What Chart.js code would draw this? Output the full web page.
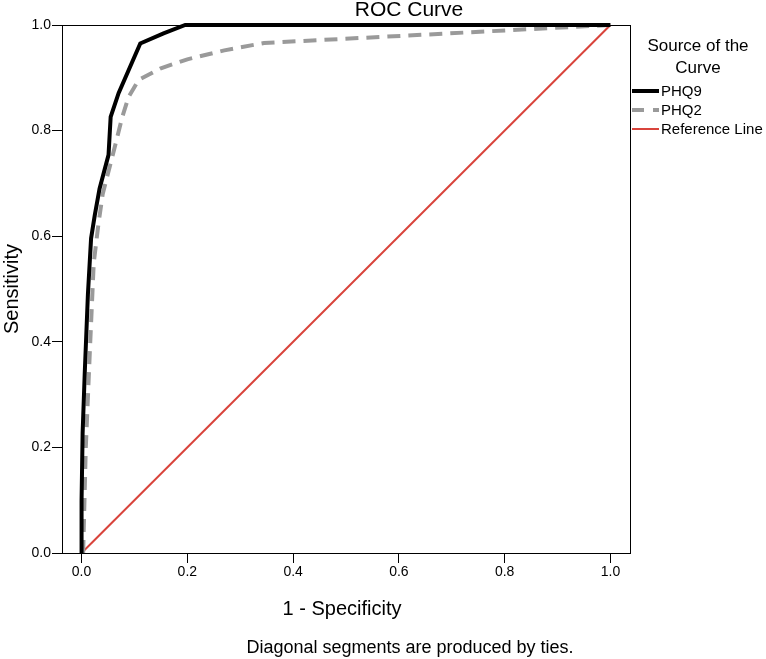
<!DOCTYPE html>
<html>
<head>
<meta charset="utf-8">
<script src="https://cdn.jsdelivr.net/npm/chart.js@4.4.1/dist/chart.umd.min.js"></script>
<style>
  html, body { margin: 0; padding: 0; background: #fff; }
  canvas { display: block; }
</style>
</head>
<body>
<canvas id="roc" width="766" height="659" style="width:766px;height:659px"></canvas>
<script>
// values
const phq9X = [0, 0, 0.002, 0.006, 0.012, 0.018, 0.025, 0.034, 0.051, 0.055, 0.070, 0.111, 0.155, 0.196, 1];
const phq9Y = [0, 0.10, 0.227, 0.341, 0.49, 0.596, 0.64, 0.69, 0.754, 0.826, 0.871, 0.965, 0.984, 1, 1];
const phq2X = [0.003, 0.008, 0.016, 0.023, 0.032, 0.040, 0.058, 0.077, 0.089, 0.108, 0.15, 0.2, 0.27, 0.345, 1];
const phq2Y = [0, 0.2, 0.39, 0.549, 0.624, 0.68, 0.75, 0.826, 0.864, 0.896, 0.918, 0.935, 0.952, 0.966, 1];
const refX = [0, 1];
const refY = [0, 1];
const tickValues = [0, 0.2, 0.4, 0.6, 0.8, 1.0];

const FONT = '"Liberation Sans", Arial, sans-serif';
const toPoints = (xs, ys) => xs.map((x, i) => ({ x, y: ys[i] }));

const legendItems = [
    { label: 'PHQ9', color: '#000000', width: 4, dash: [] },
    { label: 'PHQ2', color: '#9a9a9a', width: 4, dash: [12, 9] },
    { label: 'Reference Line', color: '#d9443c', width: 2, dash: [] },
];

const textPlugin = {
    id: 'spssText',
    afterDraw: (chart) => {
        const ctx = chart.ctx;
        const area = chart.chartArea;
        ctx.save();
        // box outline
        ctx.strokeStyle = '#000';
        ctx.lineWidth = 1;
        ctx.setLineDash([]);
        ctx.strokeRect(Math.round(area.left) + 0.5, Math.round(area.top) + 0.5,
            Math.round(area.right - area.left), Math.round(area.bottom - area.top));

        ctx.fillStyle = '#000';
        ctx.textBaseline = 'middle';
        ctx.textAlign = 'center';
        ctx.font = `21px ${FONT}`;
        ctx.fillText('ROC Curve', 409, 10);

        ctx.font = `20px ${FONT}`;
        ctx.fillText('1 - Specificity', 342, 609);

        ctx.save();
        ctx.translate(12, 289);
        ctx.rotate(-Math.PI / 2);
        ctx.fillText('Sensitivity', 0, 0);
        ctx.restore();

        ctx.font = `18px ${FONT}`;
        ctx.fillText('Diagonal segments are produced by ties.', 410, 648);

        // legend
        ctx.font = `17px ${FONT}`;
        ctx.fillText('Source of the', 698, 46);
        ctx.fillText('Curve', 698, 68);

        ctx.textAlign = 'left';
        ctx.font = `15px ${FONT}`;
        legendItems.forEach((item, i) => {
            const y = 91 + i * 19;
            ctx.beginPath();
            ctx.strokeStyle = item.color;
            ctx.lineWidth = item.width;
            ctx.setLineDash(item.dash);
            ctx.moveTo(632, y);
            ctx.lineTo(659, y);
            ctx.stroke();
            ctx.fillText(item.label, 661, y + 1);
        });
        ctx.restore();
    }
};

const axisCommon = {
    type: 'linear',
    grid: { drawOnChartArea: false, drawTicks: true, tickLength: 10, color: '#000', lineWidth: 1 },
    border: { display: true, color: '#000', width: 1 },
    ticks: { color: '#000', font: { family: FONT, size: 14 }, padding: 1, callback: v => Number(v).toFixed(1) },
    afterBuildTicks: (scale) => { scale.ticks = tickValues.map(v => ({ value: v })); },
};

new Chart(document.getElementById('roc'), {
    type: 'scatter',
    data: {
        datasets: [
            { label: 'Reference Line', data: toPoints(refX, refY), showLine: true, borderColor: '#d9443c', borderWidth: 2, pointRadius: 0, order: 3 },
            { label: 'PHQ2', data: toPoints(phq2X, phq2Y), showLine: true, borderColor: '#9a9a9a', borderWidth: 4, borderDash: [13, 8], pointRadius: 0, order: 2 },
            { label: 'PHQ9', data: toPoints(phq9X, phq9Y), showLine: true, borderColor: '#000000', borderWidth: 4, borderJoinStyle: 'miter', pointRadius: 0, order: 1 },
        ]
    },
    options: {
        responsive: false,
        animation: false,
        devicePixelRatio: 1,
        clip: false,
        layout: { padding: { left: 0, top: 25, right: 136, bottom: 0 } },
        scales: {
            x: { ...axisCommon, min: -0.037, max: 1.037, afterFit: s => { s.height = 106; } },
            y: { ...axisCommon, min: 0, max: 1, afterFit: s => { s.width = 62; } },
        },
        plugins: { legend: { display: false }, tooltip: { enabled: false }, title: { display: false } },
    },
    plugins: [textPlugin]
});
</script>
</body>
</html>
